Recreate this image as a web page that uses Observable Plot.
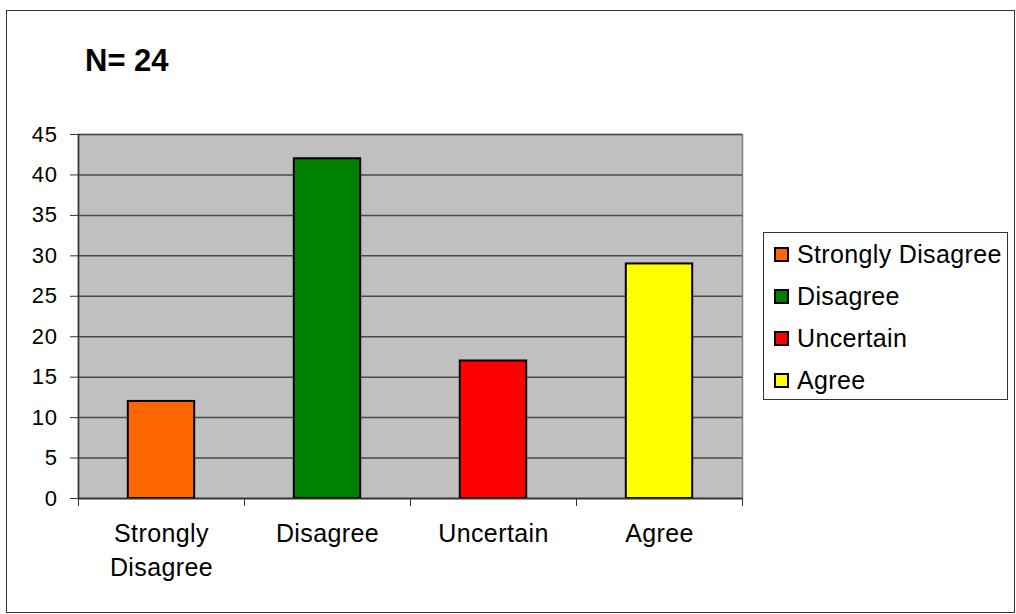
<!DOCTYPE html>
<html>
<head>
<meta charset="utf-8">
<script src="https://cdn.jsdelivr.net/npm/d3@7"></script>
<script src="https://cdn.jsdelivr.net/npm/@observablehq/plot@0.6"></script>
<style>
  body { margin: 0; background: #fff; }
  #chart { position: relative; width: 1016px; height: 614px; font-family: "Liberation Sans", Arial, sans-serif; color: #000; }
  #chart svg { position: absolute; left: 0; top: 0; }
  #chart g[aria-label="x-axis tick label"] text { letter-spacing: 0.4px; }
  #chart g[aria-label="y-axis tick label"] text { letter-spacing: 0.6px; }
  #border { position: absolute; left: 6px; top: 10px; width: 1009px; height: 603px; border: 1.5px solid #333; box-sizing: border-box; pointer-events: none; }
  #title { position: absolute; left: 85px; top: 45px; font-size: 31px; font-weight: bold; line-height: 1; white-space: pre; }
  #legend { position: absolute; left: 763px; top: 232px; width: 245px; height: 168px; border: 1.5px solid #333; box-sizing: border-box; background: #fff; }
  .item { display: flex; align-items: center; height: 42px; padding-left: 10px; }
  .swatch { width: 15px; height: 15px; border: 2px solid #000; box-sizing: border-box; margin-right: 8px; flex: none; }
  .item span { font-size: 25px; letter-spacing: 0.35px; line-height: 1; white-space: nowrap; }
</style>
</head>
<body>
<div id="chart">
  <div id="border"></div>
  <div id="title"></div>
  <div id="legend"></div>
</div>
<script>
// Survey responses (percent of respondents)
const categories = ["Strongly Disagree", "Disagree", "Uncertain", "Agree"];
const axisLabels = ["Strongly\nDisagree", "Disagree", "Uncertain", "Agree"];
const values = [12, 42, 17, 29];
const colors = ["#FF6600", "#008000", "#FF0000", "#FFFF00"];
const yTicks = [0, 5, 10, 15, 20, 25, 30, 35, 40, 45];
const titleText = "N= 24";

// One slot per category on a linear x scale: category i spans [i, i + 1]
const rows = categories.map((c, i) => ({ category: c, label: axisLabels[i], value: values[i], color: colors[i], i }));
const slotEdges = d3.range(categories.length + 1);
const slotCenters = rows.map(d => d.i + 0.5);

const fontFamily = '"Liberation Sans", Arial, sans-serif';

const chart = Plot.plot({
  width: 1016,
  height: 614,
  marginLeft: 78,
  marginRight: 274,
  marginTop: 134,
  marginBottom: 116,
  x: { domain: [0, categories.length], label: null },
  y: { domain: [0, 45], label: null },
  color: { type: "identity" },
  style: { fontFamily, fontSize: "22px", background: "transparent", color: "#000", overflow: "visible" },
  marks: [
    Plot.frame({ fill: "#c0c0c0", stroke: "#808080", strokeWidth: 1.5 }),
    Plot.gridY(yTicks, { stroke: "#4a4a4a", strokeOpacity: 1, strokeWidth: 1.5 }),
    Plot.rectY(rows, {
      x1: d => d.i + 0.3,
      x2: d => d.i + 0.7,
      y: "value",
      fill: "color",
      stroke: "#000",
      strokeWidth: 2
    }),
    Plot.ruleX([0], { stroke: "#333", strokeWidth: 1.5 }),
    Plot.ruleY([0], { stroke: "#333", strokeWidth: 1.5 }),
    Plot.axisY(yTicks, { tickSize: 8, tickPadding: 13, fontSize: 22, stroke: "#333", strokeOpacity: 1 }),
    Plot.axisX(slotEdges, { tickSize: 8, tickFormat: () => "", stroke: "#333", strokeOpacity: 1 }),
    Plot.axisX(slotCenters, {
      tickSize: 0,
      tickPadding: 19,
      tickFormat: v => axisLabels[Math.floor(v)],
      fontSize: 25,
      lineHeight: 1.36
    })
  ]
});

const root = document.getElementById("chart");
root.insertBefore(chart, root.firstChild);

document.getElementById("title").textContent = titleText;

const legend = document.getElementById("legend");
rows.forEach(d => {
  const item = document.createElement("div");
  item.className = "item";
  const sw = document.createElement("div");
  sw.className = "swatch";
  sw.style.background = d.color;
  const label = document.createElement("span");
  label.textContent = d.category;
  item.appendChild(sw);
  item.appendChild(label);
  legend.appendChild(item);
});
</script>
</body>
</html>
